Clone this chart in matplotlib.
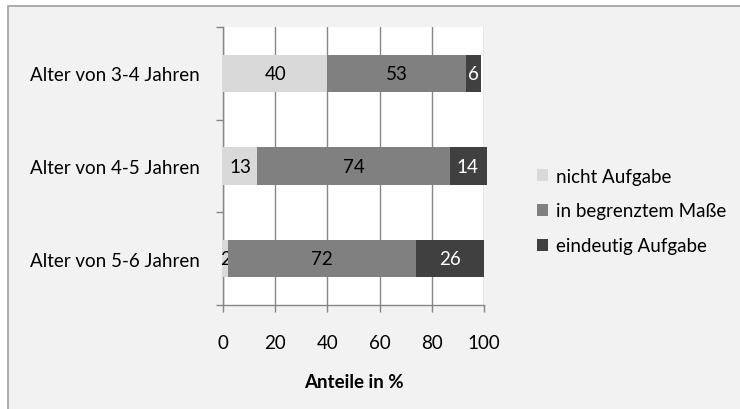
import matplotlib
matplotlib.use("Agg")
import matplotlib.pyplot as plt
import numpy as np
from matplotlib.patches import Rectangle

plt.rcParams["font.family"] = ["Lato", "DejaVu Sans"]

categories = ["Alter von 3-4 Jahren", "Alter von 4-5 Jahren", "Alter von 5-6 Jahren"]
series_names = ["nicht Aufgabe", "in begrenztem Maße", "eindeutig Aufgabe"]
nicht = [40, 13, 2]
begrenzt = [53, 74, 72]
eindeutig = [6, 14, 26]
x_ticks = [0, 20, 40, 60, 80, 100]

colors = ["#d9d9d9", "#808080", "#404040"]
text_colors = ["black", "black", "white"]
axis_grey = "#868686"
fs = 13.5

fig = plt.figure(figsize=(7.4, 4.1), dpi=100)
fig.patch.set_facecolor("white")
# chart area: grey panel, its border only shows on the top and left edges
fig.patches.append(Rectangle((8 / 740, -0.2), 1.3, 1.2 - 7 / 410,
                             transform=fig.transFigure, facecolor="#f2f2f2",
                             edgecolor="#a0a0a0", linewidth=1.2, zorder=-10))

ax = fig.add_axes([223 / 740, 1 - 306 / 410, 261 / 740, 278 / 410])
ax.set_facecolor("white")

y = np.arange(len(categories))
left = np.zeros(len(categories))
for name, vals, col, tcol in zip(series_names, [nicht, begrenzt, eindeutig],
                                 colors, text_colors):
    bars = ax.barh(y, vals, left=left, height=0.4, color=col, label=name,
                   zorder=3, clip_on=False)
    ax.bar_label(bars, labels=[str(v) for v in vals], label_type="center",
                 color=tcol, fontsize=fs)
    left += np.array(vals)

ax.set_xlim(0, 100)
ax.set_ylim(2.5, -0.5)
ax.set_xticks(x_ticks)
ax.set_yticks(y)
ax.set_yticklabels(categories, fontsize=fs)
ax.set_yticks([-0.5, 0.5, 1.5, 2.5], minor=True)
ax.tick_params(axis="y", which="major", length=0, pad=17)
ax.tick_params(axis="y", which="minor", length=5, color=axis_grey, width=1)
ax.tick_params(axis="x", length=5, color=axis_grey, width=1, pad=16,
               labelsize=fs)

ax.grid(axis="x", color=axis_grey, linewidth=1, zorder=1)
for side in ["top", "right"]:
    ax.spines[side].set_visible(False)
for side in ["left", "bottom"]:
    ax.spines[side].set_color(axis_grey)
    ax.spines[side].set_linewidth(1)

ax.set_xlabel("Anteile in %", fontsize=fs, fontweight="bold", labelpad=16)

fig.legend(loc="center left", bbox_to_anchor=(520 / 740, 1 - 212 / 410),
           frameon=False, fontsize=fs, handlelength=0.6, handleheight=0.6,
           handletextpad=0.4, labelspacing=0.95)

fig.savefig("out.png", dpi=100, facecolor=fig.get_facecolor())
